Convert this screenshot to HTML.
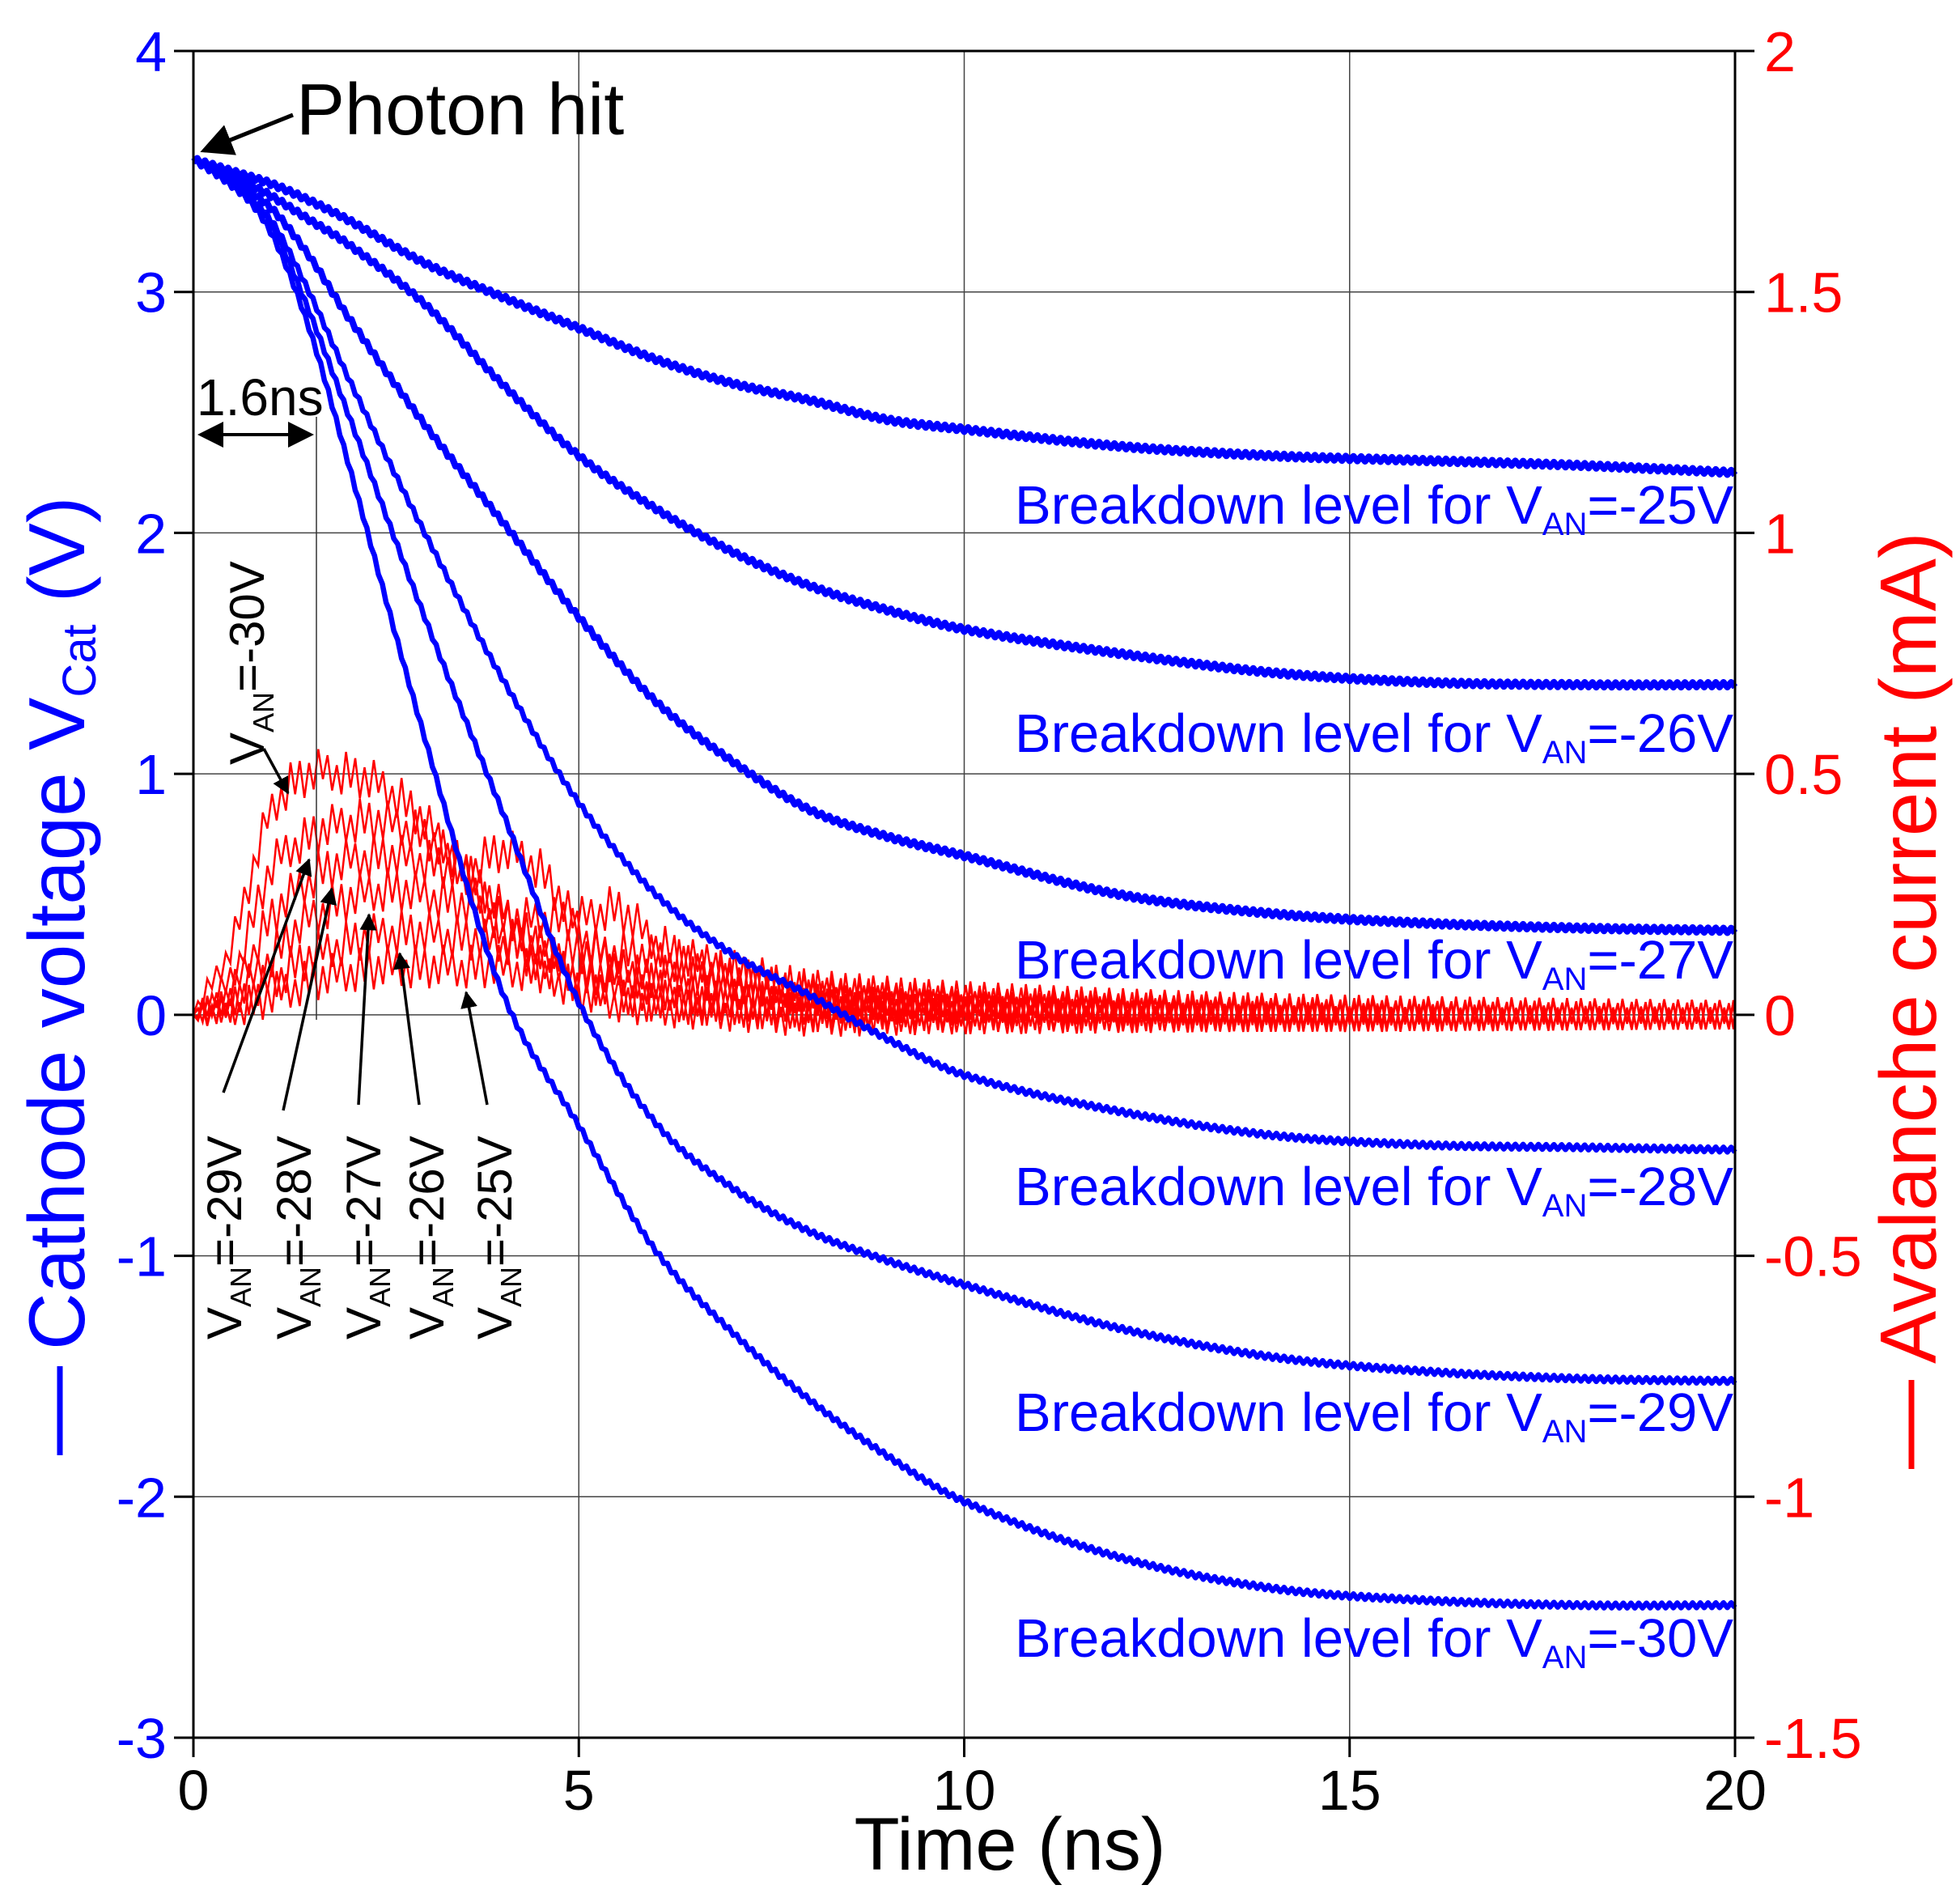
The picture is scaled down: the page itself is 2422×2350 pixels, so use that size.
<!DOCTYPE html>
<html><head><meta charset="utf-8">
<style>
html,body{margin:0;padding:0;background:#fff;}
svg{display:block;font-family:"Liberation Sans",Arial,sans-serif;}
</style></head>
<body>
<svg id="chart" width="2422" height="2350" viewBox="0 0 2422 2350" xmlns="http://www.w3.org/2000/svg">
<g id="grid"></g>
<g id="series"></g>
<g id="axes"></g>
</svg>
<script>
// ---- data ----
const xTicks = [0, 5, 10, 15, 20];
const yLeftTicks = [4, 3, 2, 1, 0, -1, -2, -3];
const yLeftLabels = ["4", "3", "2", "1", "0", "-1", "-2", "-3"];
const yRightTicks = [2, 1.5, 1, 0.5, 0, -0.5, -1, -1.5];
const yRightLabels = ["2", "1.5", "1", "0.5", "0", "-0.5", "-1", "-1.5"];

const vTimes = [0, 0.5, 1, 1.5, 2, 3, 4, 5, 6, 7, 8, 9, 10, 12, 14, 16, 18, 20];
const v25 = [3.55, 3.5, 3.45, 3.38, 3.3, 3.12, 2.98, 2.85, 2.72, 2.62, 2.55, 2.47, 2.43, 2.36, 2.32, 2.30, 2.28, 2.25];
const v26 = [3.55, 3.48, 3.40, 3.3, 3.2, 2.95, 2.62, 2.32, 2.1, 1.92, 1.78, 1.68, 1.6, 1.5, 1.42, 1.38, 1.37, 1.37];
const v27 = [3.55, 3.46, 3.35, 3.15, 2.9, 2.45, 2.05, 1.65, 1.3, 1.05, 0.85, 0.74, 0.66, 0.5, 0.42, 0.38, 0.36, 0.35];
const v28 = [3.55, 3.45, 3.3, 3.0, 2.65, 2.0, 1.4, 0.88, 0.5, 0.25, 0.08, -0.1, -0.25, -0.4, -0.5, -0.54, -0.55, -0.56];
const v29 = [3.55, 3.44, 3.28, 2.92, 2.5, 1.65, 0.85, 0.05, -0.45, -0.72, -0.9, -1.02, -1.12, -1.3, -1.42, -1.48, -1.51, -1.52];
const v30 = [3.55, 3.45, 3.25, 2.85, 2.3, 1.15, 0.1, -0.46, -0.98, -1.32, -1.6, -1.83, -2.02, -2.25, -2.38, -2.43, -2.45, -2.45];
const vSeries = [v25, v26, v27, v28, v29, v30];
const vNames = ["-25V", "-26V", "-27V", "-28V", "-29V", "-30V"];

const iTimes = [0, 0.5, 1, 1.5, 2, 2.5, 3, 3.5, 4, 4.5, 5, 5.5, 6, 7, 8, 10, 14, 20];
const i30 = [0, 0.15, 0.42, 0.5, 0.5, 0.47, 0.4, 0.3, 0.18, 0.1, 0.05, 0.03, 0.02, 0.01, 0, 0, 0, 0];
const i29 = [0, 0.08, 0.3, 0.37, 0.4, 0.4, 0.37, 0.3, 0.22, 0.14, 0.08, 0.05, 0.03, 0.02, 0.01, 0, 0, 0];
const i28 = [0, 0.05, 0.2, 0.28, 0.32, 0.33, 0.32, 0.3, 0.34, 0.3, 0.18, 0.1, 0.06, 0.03, 0.02, 0.01, 0, 0];
const i27 = [0, 0.03, 0.12, 0.2, 0.24, 0.26, 0.25, 0.23, 0.2, 0.2, 0.2, 0.22, 0.15, 0.08, 0.04, 0.02, 0, 0];
const i26 = [0, 0.02, 0.07, 0.12, 0.15, 0.17, 0.17, 0.16, 0.15, 0.14, 0.13, 0.13, 0.12, 0.09, 0.05, 0.03, 0.01, 0];
const i25 = [0, 0.01, 0.04, 0.07, 0.09, 0.1, 0.1, 0.1, 0.1, 0.09, 0.09, 0.08, 0.08, 0.07, 0.05, 0.03, 0.01, 0];
const iSeries = [i25, i26, i27, i28, i29, i30];
const rippleAmp = [0.02, 0.035, 0.045, 0.045, 0.045, 0.045, 0.045, 0.045, 0.045, 0.045, 0.045, 0.045, 0.045, 0.045, 0.045, 0.04, 0.035, 0.03];

// ---- scales ----
const L = 239, R = 2144, T = 63, B = 2147;
const xS = t => L + t / 20 * (R - L);
const yL = v => T + (4 - v) / 7 * (B - T);
const yR = a => T + (2 - a) / 3.5 * (B - T);
const NS = "http://www.w3.org/2000/svg";
function mk(tag, attrs, parent, text) {
  const e = document.createElementNS(NS, tag);
  for (const k in attrs) e.setAttribute(k, attrs[k]);
  if (text !== undefined) e.textContent = text;
  parent.appendChild(e);
  return e;
}
function interp(ts, vs, t) {
  const n = ts.length;
  for (let i = 0; i < n - 1; i++) {
    if (t >= ts[i] && t <= ts[i + 1]) {
      const h = ts[i + 1] - ts[i];
      const f = (t - ts[i]) / h;
      const m0 = i > 0 ? (vs[i + 1] - vs[i - 1]) / (ts[i + 1] - ts[i - 1]) * h : (vs[i + 1] - vs[i]);
      const m1 = i < n - 2 ? (vs[i + 2] - vs[i]) / (ts[i + 2] - ts[i]) * h : (vs[i + 1] - vs[i]);
      const f2 = f * f, f3 = f2 * f;
      return (2 * f3 - 3 * f2 + 1) * vs[i] + (f3 - 2 * f2 + f) * m0 + (-2 * f3 + 3 * f2) * vs[i + 1] + (f3 - f2) * m1;
    }
  }
  return vs[n - 1];
}
const grid = document.getElementById('grid');
const series = document.getElementById('series');
const axes = document.getElementById('axes');

xTicks.forEach(t => {
  const g = mk('line', {x1: xS(t), x2: xS(t), y1: T, y2: B, stroke: '#444', 'stroke-width': 1.5}, grid);
  
  
});
yLeftTicks.forEach(v => {
  const g = mk('line', {x1: L, x2: R, y1: yL(v), y2: yL(v), stroke: '#444', 'stroke-width': 1.5}, grid);
  
  
});

const ripplePattern = [1, -0.6, 0.8, -1, 0.5, -0.8, 1, -0.4, 0.7, -0.9, 0.3, -1];
iSeries.forEach((s, k) => {
  let d = '';
  const step = 0.06;
  for (let n = 0; n <= 334; n++) {
    const t = Math.min(20, n * step);
    const base = interp(iTimes, s, t);
    const amp = interp(iTimes, rippleAmp, t);
    const sgn = ripplePattern[(n + 3 * k) % ripplePattern.length];
    const a = n === 0 ? 0 : base + sgn * amp;
    d += (n ? 'L' : 'M') + xS(t).toFixed(1) + ',' + yR(a).toFixed(1);
  }
  const p = mk('path', {d: d, fill: 'none', stroke: '#ff0000', 'stroke-width': 2.5}, series);
  
  
});

vSeries.forEach((s, k) => {
  let d = '';
  for (let n = 0; n <= 400; n++) {
    const t = n * 0.05;
    const v = interp(vTimes, s, t) + (n % 2 ? 0.01 : -0.01);
    d += (n ? 'L' : 'M') + xS(t).toFixed(1) + ',' + yL(v).toFixed(1);
  }
  const p = mk('path', {d: d, fill: 'none', stroke: '#0000ff', 'stroke-width': k < 3 ? 8 : 6.5, 'stroke-linejoin': 'round'}, series);
  
  
});

const fr = mk('rect', {x: L, y: T, width: R - L, height: B - T, fill: 'none', stroke: '#000', 'stroke-width': 3}, axes);


xTicks.forEach(t => {
  const tk = mk('line', {x1: xS(t), x2: xS(t), y1: B, y2: B + 24, stroke: '#000', 'stroke-width': 3}, axes);
  
  
  const lb = mk('text', {x: xS(t), y: 2236, 'font-size': 70, 'text-anchor': 'middle', fill: '#000'}, axes, String(t));
  
  
});
yLeftTicks.forEach((v, i) => {
  const tk = mk('line', {x1: L - 24, x2: L, y1: yL(v), y2: yL(v), stroke: '#000', 'stroke-width': 3}, axes);
  
  
  const lb = mk('text', {x: 206, y: yL(v) + 25, 'font-size': 70, 'text-anchor': 'end', fill: '#0000ff'}, axes, yLeftLabels[i]);
  
  
});
yRightTicks.forEach((a, i) => {
  const tk = mk('line', {x1: R, x2: R + 24, y1: yR(a), y2: yR(a), stroke: '#000', 'stroke-width': 3}, axes);
  
  
  const lb = mk('text', {x: 2180, y: yR(a) + 25, 'font-size': 70, 'text-anchor': 'start', fill: '#ff0000'}, axes, yRightLabels[i]);
  
  
});
</script>

<svg style="position:absolute;left:0;top:0" width="2422" height="2350" viewBox="0 0 2422 2350" font-family="Liberation Sans, Arial, sans-serif">
<defs>
<marker id="ah" markerWidth="8" markerHeight="8" refX="7" refY="4" orient="auto" markerUnits="strokeWidth"><path d="M0,0 L8,4 L0,8 z" fill="#000"/></marker>
<marker id="ahs" markerWidth="8" markerHeight="8" refX="1" refY="4" orient="auto" markerUnits="strokeWidth"><path d="M8,0 L0,4 L8,8 z" fill="#000"/></marker>
<marker id="ah2" markerWidth="6" markerHeight="6" refX="5.5" refY="3" orient="auto" markerUnits="strokeWidth"><path d="M0,0 L6,3 L0,6 z" fill="#000"/></marker>
</defs>
<text x="1248" y="2310" font-size="92" text-anchor="middle" fill="#000">Time (ns)</text>
<g transform="translate(104,1798) rotate(-90)">
<line x1="0" y1="-30" x2="110" y2="-30" stroke="#0000ff" stroke-width="7"/>
<text x="130" y="0" font-size="98" fill="#0000ff">Cathode voltage V<tspan font-size="58" dy="14">Cat</tspan><tspan dy="-14"> (V)</tspan></text>
</g>
<g transform="translate(2392,1815) rotate(-90)">
<line x1="0" y1="-30" x2="110" y2="-30" stroke="#ff0000" stroke-width="7"/>
<text x="130" y="0" font-size="98" fill="#ff0000">Avalanche current (mA)</text>
</g>
<g font-size="67" fill="#0000ff" text-anchor="end">
<text x="2142" y="647">Breakdown level for V<tspan font-size="40" dy="14">AN</tspan><tspan dy="-14">=-25V</tspan></text>
<text x="2142" y="929">Breakdown level for V<tspan font-size="40" dy="14">AN</tspan><tspan dy="-14">=-26V</tspan></text>
<text x="2142" y="1209">Breakdown level for V<tspan font-size="40" dy="14">AN</tspan><tspan dy="-14">=-27V</tspan></text>
<text x="2142" y="1489">Breakdown level for V<tspan font-size="40" dy="14">AN</tspan><tspan dy="-14">=-28V</tspan></text>
<text x="2142" y="1768">Breakdown level for V<tspan font-size="40" dy="14">AN</tspan><tspan dy="-14">=-29V</tspan></text>
<text x="2142" y="2047">Breakdown level for V<tspan font-size="40" dy="14">AN</tspan><tspan dy="-14">=-30V</tspan></text>
</g>
<text x="366" y="166" font-size="90" fill="#000">Photon hit</text>
<line x1="362" y1="142" x2="252" y2="186" stroke="#000" stroke-width="5" marker-end="url(#ah)"/>
<text x="243" y="513" font-size="64" fill="#000">1.6ns</text>
<line x1="391" y1="515" x2="391" y2="1260" stroke="#333" stroke-width="1.5"/>
<line x1="248" y1="537" x2="384" y2="537" stroke="#000" stroke-width="4" marker-start="url(#ahs)" marker-end="url(#ah)"/>
<g font-size="60" fill="#000">
<text transform="translate(326,945) rotate(-90)">V<tspan font-size="36" dy="12">AN</tspan><tspan dy="-12">=-30V</tspan></text>
<text transform="translate(298,1655) rotate(-90)">V<tspan font-size="36" dy="12">AN</tspan><tspan dy="-12">=-29V</tspan></text>
<text transform="translate(384,1655) rotate(-90)">V<tspan font-size="36" dy="12">AN</tspan><tspan dy="-12">=-28V</tspan></text>
<text transform="translate(470,1655) rotate(-90)">V<tspan font-size="36" dy="12">AN</tspan><tspan dy="-12">=-27V</tspan></text>
<text transform="translate(548,1655) rotate(-90)">V<tspan font-size="36" dy="12">AN</tspan><tspan dy="-12">=-26V</tspan></text>
<text transform="translate(632,1655) rotate(-90)">V<tspan font-size="36" dy="12">AN</tspan><tspan dy="-12">=-25V</tspan></text>
</g>
<g stroke="#000" stroke-width="3.5">
<line x1="326" y1="925" x2="356" y2="980" marker-end="url(#ah2)"/>
<line x1="276" y1="1350" x2="382" y2="1062" marker-end="url(#ah2)"/>
<line x1="350" y1="1372" x2="410" y2="1098" marker-end="url(#ah2)"/>
<line x1="443" y1="1365" x2="456" y2="1130" marker-end="url(#ah2)"/>
<line x1="518" y1="1365" x2="494" y2="1178" marker-end="url(#ah2)"/>
<line x1="602" y1="1365" x2="576" y2="1226" marker-end="url(#ah2)"/>
</g>
</svg>
</body></html>
